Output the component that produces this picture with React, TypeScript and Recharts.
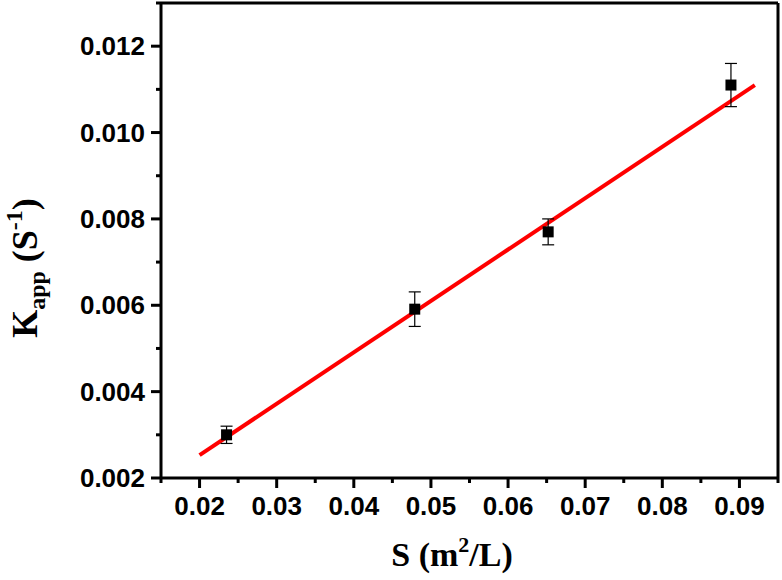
import React from 'react';
import {
  ComposedChart, Scatter, Line, XAxis, YAxis, ZAxis, ErrorBar, ReferenceLine
} from 'recharts';

// measured points
const sValues = [0.0235, 0.0479, 0.0652, 0.0889];
const kValues = [0.0030, 0.00591, 0.0077, 0.0111];
const kErrors = [0.0002, 0.0004, 0.0003, 0.0005];

// linear fit end points
const fitS = [0.02, 0.0920];
const fitK = [0.00253, 0.0111];

const xMajorTicks = [0.02, 0.03, 0.04, 0.05, 0.06, 0.07, 0.08, 0.09];
const xMajorLabels = ['0.02', '0.03', '0.04', '0.05', '0.06', '0.07', '0.08', '0.09'];
const xMinorTicks = [0.015, 0.025, 0.035, 0.045, 0.055, 0.065, 0.075, 0.085, 0.095];

const yMajorTicks = [0.002, 0.004, 0.006, 0.008, 0.010, 0.012];
const yMajorLabels = ['0.002', '0.004', '0.006', '0.008', '0.010', '0.012'];
const yMinorTicks = [0.003, 0.005, 0.007, 0.009, 0.011, 0.013];

const xDomain = [0.015, 0.095];
const yDomain = [0.002, 0.013];

const points = sValues.map((s, i) => ({ x: s, y: kValues[i], err: kErrors[i] }));
const fit = fitS.map((s, i) => ({ x: s, y: fitK[i] }));

const tickFont = '"Liberation Sans", Arial, sans-serif';
const titleFont = '"Liberation Serif", "Times New Roman", serif';

const findLabel = (value: number, ticks: number[], labels: string[]) => {
  const i = ticks.findIndex(t => Math.abs(t - value) < 1e-9);
  return i >= 0 ? labels[i] : null;
};

const XTick = ({ x, y, payload }: any) => {
  const label = findLabel(payload.value, xMajorTicks, xMajorLabels);
  return (
    <g>
      <line x1={x} y1={y} x2={x} y2={y + (label ? 10 : 5)} stroke="#000" strokeWidth={3} />
      {label && (
        <text x={x} y={y + 37} textAnchor="middle" fontFamily={tickFont}
          fontWeight="bold" fontSize={26} fill="#000">{label}</text>
      )}
    </g>
  );
};

const YTick = ({ x, y, payload }: any) => {
  const label = findLabel(payload.value, yMajorTicks, yMajorLabels);
  return (
    <g>
      <line x1={x} y1={y} x2={x - (label ? 10 : 5)} y2={y} stroke="#000" strokeWidth={3} />
      {label && (
        <text x={x - 16} y={y + 9} textAnchor="end" fontFamily={tickFont}
          fontWeight="bold" fontSize={26} fill="#000">{label}</text>
      )}
    </g>
  );
};

export default function App() {
  return (
    <div style={{ position: 'absolute', left: 0, top: 0, width: 782, height: 580, background: '#fff' }}>
      <ComposedChart width={782} height={580} margin={{ top: 3, right: 4, left: 0, bottom: 0 }}>
        <XAxis
          dataKey="x" type="number" domain={xDomain}
          ticks={[...xMinorTicks, ...xMajorTicks].sort((a, b) => a - b)}
          interval={0} height={102} tickSize={0} tickMargin={0} tickLine={false}
          tick={<XTick />} axisLine={{ stroke: '#000', strokeWidth: 3 }}
          allowDataOverflow
        />
        <YAxis
          dataKey="y" type="number" domain={yDomain}
          ticks={[...yMinorTicks, ...yMajorTicks].sort((a, b) => a - b)}
          interval={0} width={161} tickSize={0} tickMargin={0} tickLine={false}
          tick={<YTick />} axisLine={{ stroke: '#000', strokeWidth: 3 }}
          allowDataOverflow
        />
        <ZAxis range={[121, 121]} />
        <ReferenceLine y={yDomain[1]} stroke="#000" strokeWidth={3} />
        <ReferenceLine x={xDomain[1]} stroke="#000" strokeWidth={3} />
        <Line data={fit} dataKey="y" stroke="#ff0000" strokeWidth={4} dot={false}
          activeDot={false} isAnimationActive={false} />
        <Scatter data={points} dataKey="y" fill="#000" shape="square" isAnimationActive={false}>
          <ErrorBar dataKey="err" direction="y" width={6} stroke="#000" strokeWidth={1.2} />
        </Scatter>
      </ComposedChart>
      <svg width={782} height={580} style={{ position: 'absolute', left: 0, top: 0, pointerEvents: 'none' }}>
        <text x={452} y={566} textAnchor="middle" fontFamily={titleFont} fontWeight="bold"
          fontSize={34} fill="#000">
          S (m<tspan fontSize={22} dy={-14}>2</tspan><tspan dy={14}>/L)</tspan>
        </text>
        <text transform="translate(37,268) rotate(-90)" textAnchor="middle" fontFamily={titleFont}
          fontWeight="bold" fontSize={36} fill="#000">
          K<tspan fontSize={24} dy={8}>app</tspan><tspan dy={-8}> (S</tspan>
          <tspan fontSize={24} dy={-15}>-1</tspan><tspan dy={15}>)</tspan>
        </text>
      </svg>
    </div>
  );
}
